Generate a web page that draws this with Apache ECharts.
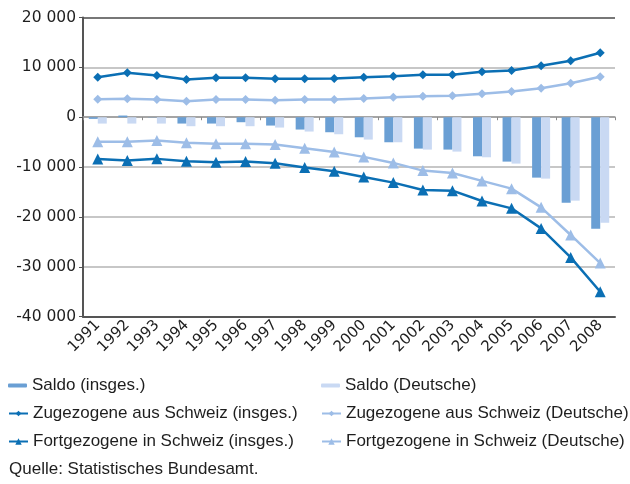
<!DOCTYPE html>
<html>
<head>
<meta charset="utf-8">
<script src="https://cdn.jsdelivr.net/npm/echarts@6/dist/echarts.min.js"></script>
<style>
  html, body { margin: 0; padding: 0; background: #fff; }
  #chart { width: 630px; height: 484px; }
</style>
</head>
<body>
<div id="chart"></div>
<script>
// Wanderungen zwischen Deutschland und der Schweiz, 1991–2008
const years = ['1991', '1992', '1993', '1994', '1995', '1996', '1997', '1998', '1999',
               '2000', '2001', '2002', '2003', '2004', '2005', '2006', '2007', '2008'];

const saldoInsges = [-330, 340, 50, -1270, -1270, -1000, -1670, -2470, -3010,
                     -4020, -5020, -6290, -6490, -7830, -8900, -12110, -17130, -22350];
const saldoDeutsche = [-1270, -1270, -1270, -1800, -1800, -1800, -2070, -2870, -3410,
                       -4480, -5020, -6490, -6890, -8030, -9300, -12310, -16730, -21150];
const zuzugInsges = [8030, 8900, 8370, 7570, 7910, 7900, 7710, 7700, 7770,
                     8030, 8230, 8510, 8510, 9110, 9380, 10320, 11320, 12930];
const zuzugDeutsche = [3610, 3690, 3550, 3210, 3550, 3550, 3410, 3550, 3550,
                       3750, 4020, 4220, 4290, 4690, 5160, 5820, 6830, 8110];
const fortzugInsges = [-8400, -8700, -8350, -8840, -9040, -8900, -9240, -10100, -10840,
                       -11970, -13110, -14580, -14720, -16790, -18270, -22290, -28110, -35000];
const fortzugDeutsche = [-4940, -4940, -4680, -5140, -5340, -5340, -5480, -6220, -6950,
                         -7950, -9160, -10700, -11170, -12770, -14320, -18070, -23610, -29240];

const yTicks = { min: -40000, max: 20000, interval: 10000 };

const names = {
  saldoI: 'Saldo (insges.)',
  saldoD: 'Saldo (Deutsche)',
  zuzugI: 'Zugezogene aus Schweiz (insges.)',
  zuzugD: 'Zugezogene aus Schweiz (Deutsche)',
  fortI: 'Fortgezogene in Schweiz (insges.)',
  fortD: 'Fortgezogene in Schweiz (Deutsche)'
};

const FONT = 'Liberation Sans, Arial, Helvetica, sans-serif';
const NUM_FONT = 'DejaVu Sans, Liberation Sans, sans-serif';
const TEXT = '#1e1e1e';
const DARK_LINE = '#0b6fb4';
const LIGHT_LINE = '#9dbde7';
const DARK_BAR = '#6a9fd4';
const LIGHT_BAR = '#c9d9f3';

function fmt(v) {
  if (v === 0) return '0';
  const s = String(Math.abs(v)).replace(/\B(?=(\d{3})+(?!\d))/g, ' ');
  return (v < 0 ? '-' : '') + s;
}

function legendAt(name, left, centerY, w, h) {
  return {
    data: [name],
    left: left,
    top: centerY - 10,
    padding: 0,
    itemWidth: w,
    itemHeight: h,
    itemGap: 0,
    selectedMode: false,
    textStyle: { fontFamily: FONT, fontSize: 17, color: TEXT, lineHeight: 20 }
  };
}

const chart = echarts.init(document.getElementById('chart'), null, { renderer: 'canvas' });

chart.setOption({
  animation: false,
  backgroundColor: '#fff',
  textStyle: { fontFamily: FONT },
  title: {
    text: 'Quelle: Statistisches Bundesamt.',
    left: 9,
    top: 459,
    padding: 0,
    textStyle: { fontFamily: FONT, fontSize: 17, lineHeight: 20, fontWeight: 'normal', color: TEXT }
  },
  legend: [
    legendAt(names.saldoI, 8, 385.5, 19, 4),
    legendAt(names.zuzugI, 8, 413.5, 19, 7),
    legendAt(names.fortI, 8, 441.5, 19, 8),
    legendAt(names.saldoD, 321, 385.5, 19, 4),
    legendAt(names.zuzugD, 321, 413.5, 19, 7),
    legendAt(names.fortD, 321, 441.5, 19, 8)
  ],
  grid: { left: 83, right: 15, top: 17.5, bottom: 167.3, containLabel: false },
  xAxis: [
    {
      // category axis drawn along the zero line
      type: 'category',
      data: years,
      position: 'top',
      axisLine: { onZero: true, lineStyle: { color: '#9a9a9a', width: 1.5 } },
      axisTick: { show: true, inside: true, length: 3, lineStyle: { color: '#8a8a8a' } },
      axisLabel: { show: false },
      splitLine: { show: false }
    },
    {
      // bottom frame line carrying the year labels
      type: 'category',
      data: years,
      position: 'bottom',
      axisLine: { onZero: false, lineStyle: { color: '#555', width: 2 } },
      axisTick: { show: false },
      axisLabel: { rotate: 45, margin: 6, fontSize: 15, color: TEXT, fontFamily: NUM_FONT, interval: 0 },
      splitLine: { show: false }
    }
  ],
  yAxis: {
    type: 'value',
    min: yTicks.min,
    max: yTicks.max,
    interval: yTicks.interval,
    axisLine: { show: true, lineStyle: { color: '#555', width: 2 } },
    axisTick: { show: true, length: 4, lineStyle: { color: '#555' } },
    axisLabel: { formatter: fmt, fontSize: 15.5, color: TEXT, fontFamily: NUM_FONT, margin: 7 },
    splitLine: {
      show: true,
      lineStyle: {
        color: ['#555', '#b4b4b4', '#b4b4b4', '#b4b4b4', '#b4b4b4', '#b4b4b4', '#4a4a4a'],
        width: 1.5
      }
    }
  },
  series: [
    {
      name: names.saldoI, type: 'bar', xAxisIndex: 0, data: saldoInsges,
      barWidth: 9, barGap: '0%', itemStyle: { color: DARK_BAR }, z: 2
    },
    {
      name: names.saldoD, type: 'bar', xAxisIndex: 0, data: saldoDeutsche,
      barWidth: 9, barGap: '0%', itemStyle: { color: LIGHT_BAR }, z: 2
    },
    {
      name: names.zuzugI, type: 'line', xAxisIndex: 0, data: zuzugInsges,
      symbol: 'diamond', symbolSize: 9, showAllSymbol: true,
      lineStyle: { color: DARK_LINE, width: 2.5 }, itemStyle: { color: DARK_LINE }, z: 4
    },
    {
      name: names.zuzugD, type: 'line', xAxisIndex: 0, data: zuzugDeutsche,
      symbol: 'diamond', symbolSize: 9, showAllSymbol: true,
      lineStyle: { color: LIGHT_LINE, width: 2.5 }, itemStyle: { color: LIGHT_LINE }, z: 3
    },
    {
      name: names.fortI, type: 'line', xAxisIndex: 0, data: fortzugInsges,
      symbol: 'triangle', symbolSize: 11, showAllSymbol: true,
      lineStyle: { color: DARK_LINE, width: 2.5 }, itemStyle: { color: DARK_LINE }, z: 4
    },
    {
      name: names.fortD, type: 'line', xAxisIndex: 0, data: fortzugDeutsche,
      symbol: 'triangle', symbolSize: 11, showAllSymbol: true,
      lineStyle: { color: LIGHT_LINE, width: 2.5 }, itemStyle: { color: LIGHT_LINE }, z: 3
    }
  ]
});
</script>
</body>
</html>
